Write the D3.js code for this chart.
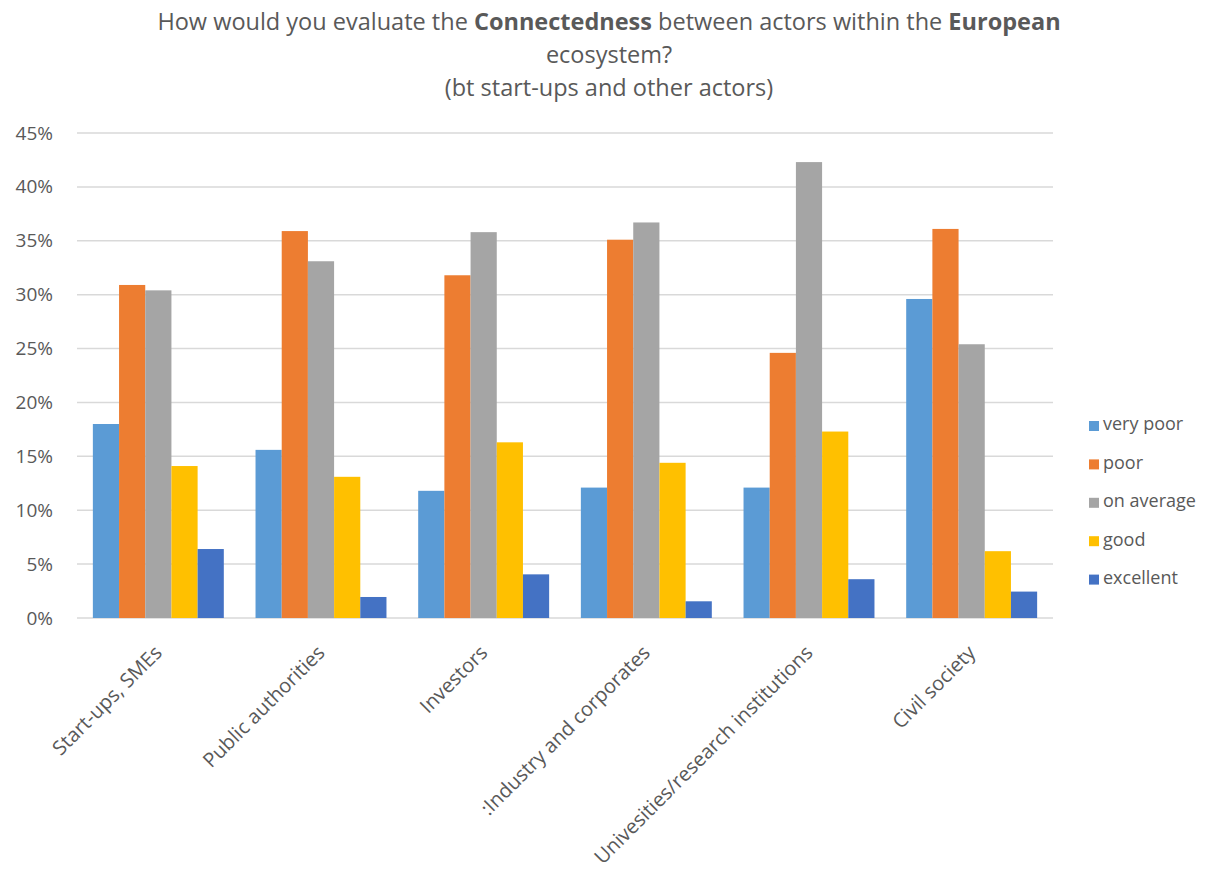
<!DOCTYPE html>
<html>
<head>
<meta charset="utf-8">
<script src="https://cdn.jsdelivr.net/npm/d3@7"></script>
<style>
  body { margin: 0; background: #fff; }
</style>
</head>
<body>
<div id="chart"></div>
<script>
const categories = ["Start-ups, SMEs", "Public authorities", "Investors", ":Industry and corporates", "Univesities/research institutions", "Civil society"];
const seriesNames = ["very poor", "poor", "on average", "good", "excellent"];
const veryPoor = [18.0, 15.6, 11.8, 12.1, 12.1, 29.6];
const poor = [30.9, 35.9, 31.8, 35.1, 24.6, 36.1];
const onAverage = [30.4, 33.1, 35.8, 36.7, 42.3, 25.4];
const good = [14.1, 13.1, 16.3, 14.4, 17.3, 6.2];
const excellent = [6.4, 1.95, 4.05, 1.55, 3.6, 2.45];
const yTicks = [0, 5, 10, 15, 20, 25, 30, 35, 40, 45];
const colors = ["#5B9BD5", "#ED7D31", "#A5A5A5", "#FFC000", "#4472C4"];

const seriesValues = [veryPoor, poor, onAverage, good, excellent];
const width = 1209, height = 872;
const font = "'Open Sans', sans-serif";
const textColor = "#595959";

const svg = d3.select("#chart")
    .append("svg")
    .attr("width", width)
    .attr("height", height);

// plot area
const plot = { left: 77, right: 1053, top: 133, bottom: 618 };

const x0 = d3.scaleBand().domain(categories).range([plot.left, plot.right])
    .paddingInner(0.195).paddingOuter(0.0975);
const x1 = d3.scaleBand().domain(seriesNames).range([0, x0.bandwidth()]);
const y = d3.scaleLinear().domain([0, 45]).range([plot.bottom, plot.top]);

// gridlines
svg.append("g")
    .selectAll("line")
    .data(yTicks)
    .join("line")
    .attr("x1", plot.left).attr("x2", plot.right)
    .attr("y1", d => y(d)).attr("y2", d => y(d))
    .style("stroke", "#D9D9D9")
    .style("stroke-width", "1.5px");

// y axis labels
svg.append("g")
    .attr("transform", "translate(" + (plot.left - 24) + ",0)")
    .call(d3.axisLeft(y).tickValues(yTicks).tickSize(0).tickPadding(0)
        .tickFormat(d => d + "%"))
    .call(g => g.select(".domain").remove())
    .call(g => g.selectAll("text")
        .style("font-family", font)
        .style("font-size", "19px")
        .style("fill", textColor));

// bars
const groups = svg.append("g")
    .selectAll("g")
    .data(categories)
    .join("g")
    .attr("transform", d => "translate(" + x0(d) + ",0)");

groups.selectAll("rect")
    .data((d, i) => seriesNames.map((s, j) => ({ s: s, v: seriesValues[j][i], c: colors[j] })))
    .join("rect")
    .attr("x", d => x1(d.s))
    .attr("width", x1.bandwidth())
    .attr("y", d => y(d.v))
    .attr("height", d => y(0) - y(d.v))
    .style("fill", d => d.c);

// x axis labels, rotated
svg.append("g")
    .attr("transform", "translate(0," + plot.bottom + ")")
    .call(d3.axisBottom(x0).tickSize(0).tickPadding(0))
    .call(g => g.select(".domain").remove())
    .call(g => g.selectAll("text")
        .attr("text-anchor", "end")
        .attr("dy", 0)
        .attr("y", 0)
        .attr("transform", "translate(5,36) rotate(-45)")
        .style("font-family", font)
        .style("font-size", "20px")
        .style("fill", textColor));

// title
const title = svg.append("text")
    .attr("text-anchor", "middle")
    .style("font-family", font)
    .style("font-size", "23.5px")
    .style("fill", textColor);
const line1 = title.append("tspan").attr("x", 609).attr("y", 30);
line1.append("tspan").text("How would you evaluate the ");
line1.append("tspan").style("font-weight", "bold").text("Connectedness");
line1.append("tspan").text(" between actors within the ");
line1.append("tspan").style("font-weight", "bold").text("European");
title.append("tspan").attr("x", 609).attr("y", 63).text("ecosystem?");
title.append("tspan").attr("x", 609).attr("y", 96).text("(bt start-ups and other actors)");

// legend
const legend = svg.append("g")
    .selectAll("g")
    .data(seriesNames)
    .join("g")
    .attr("transform", (d, i) => "translate(1089," + (421 + i * 38.4) + ")");

legend.append("rect")
    .attr("width", 10).attr("height", 10)
    .style("fill", (d, i) => colors[i]);

legend.append("text")
    .attr("x", 14).attr("y", 3).attr("dy", "0.35em")
    .style("font-family", font)
    .style("font-size", "18px")
    .style("fill", textColor)
    .text(d => d);
</script>
</body>
</html>
